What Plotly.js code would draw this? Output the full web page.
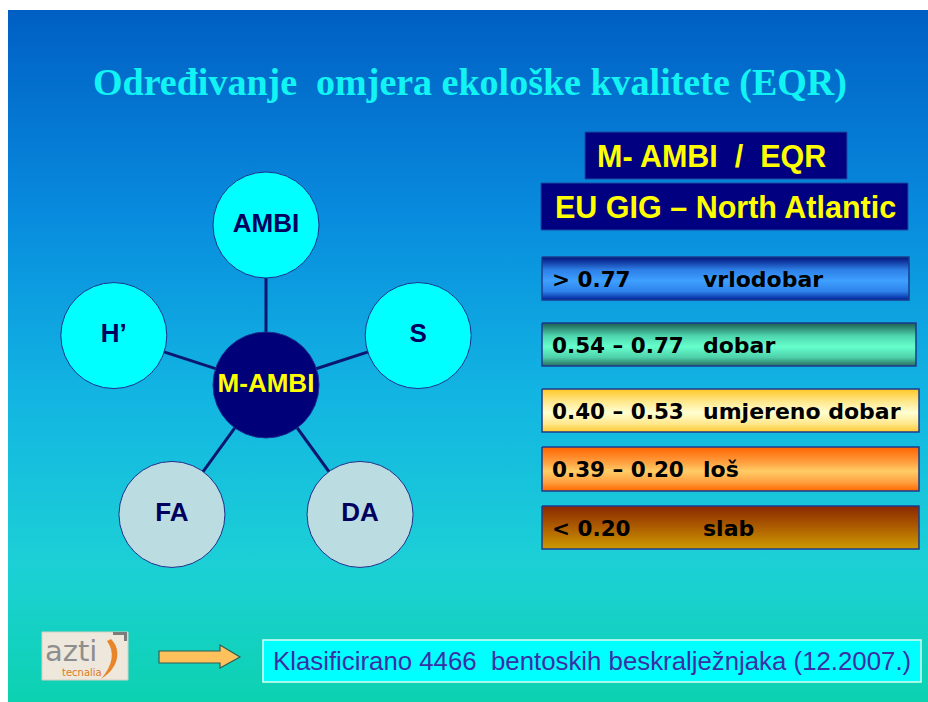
<!DOCTYPE html>
<html>
<head>
<meta charset="utf-8">
<script src="https://cdn.plot.ly/plotly-3.0.1.min.js"></script>
<style>html,body{margin:0;padding:0;background:#ffffff;}#chart{width:928px;height:702px;}</style>
</head>
<body>
<div id="chart"></div>
<script>
// ---- content ----
const titleText = "Određivanje\u00a0 omjera ekološke kvalitete (EQR)";
const headerLines = ["M- AMBI\u00a0 /\u00a0 EQR", "EU GIG – North Atlantic"];
const centerLabel = "M-AMBI";
const nodeLabels = ["AMBI", "S", "DA", "FA", "H’"];
const nodeKinds = ["main", "main", "extra", "extra", "main"];
const eqrRanges = ["> 0.77", "0.54 – 0.77", "0.40 – 0.53", "0.39 – 0.20", "< 0.20"];
const eqrClasses = ["vrlodobar", "dobar", "umjereno dobar", "loš", "slab"];
const footnoteText = "Klasificirano 4466\u00a0 bentoskih beskralježnjaka (12.2007.)";
const logoWord = "azti";
const logoSub = "tecnalia";

// ---- styles / layout geometry ----
const bandColors = [
  [[0,'#00127a'],[0.3,'#2d7fe6'],[0.55,'#3ea0ff'],[0.8,'#2e82ea'],[1,'#00229a']],
  [[0,'#1a5c52'],[0.3,'#4ed6ae'],[0.55,'#66ffcc'],[0.8,'#4ed0aa'],[1,'#256c5e']],
  [[0,'#ffc626'],[0.3,'#ffe88e'],[0.55,'#ffffd2'],[0.8,'#ffe88e'],[1,'#ffca30']],
  [[0,'#ff6200'],[0.35,'#ffa040'],[0.55,'#ffcc66'],[0.8,'#ffa040'],[1,'#ff6800']],
  [[0,'#8a2800'],[0.5,'#ae5e00'],[1,'#cc9a00']]
];
const bandBoxes = [[542,909,257,300],[542,916,323,366],[542,919,389,432],[542,919,447,491],[542,919,506,549]];
const kindFill = {main:'#00ffff', extra:'#bbdde1'};

const traces = [];
// slide background
traces.push({
  type:'scatter', mode:'lines', x:[8,928,928,8,8], y:[10,10,702,702,10],
  fill:'toself', fillcolor:'#10a8e0', line:{width:0}, hoverinfo:'skip', showlegend:false,
  fillgradient:{type:'vertical', start:10, stop:702,
    colorscale:[[0,'rgb(0,95,196)'],[0.3,'rgb(8,140,222)'],[0.55,'rgb(18,180,226)'],[0.8,'rgb(28,208,214)'],[1,'rgb(12,210,176)']]}
});

// diagram geometry
const cx = 266, cy = 385, R = 160, nodeSize = 106;
const angles = [90, 18, 306, 234, 162];
const nx = angles.map(a => cx + R*Math.cos(a*Math.PI/180));
const ny = angles.map(a => cy - R*Math.sin(a*Math.PI/180));

// spokes
const sx = [], sy = [];
nx.forEach((x,i) => { sx.push(cx, x, null); sy.push(cy, ny[i], null); });
traces.push({type:'scatter', mode:'lines', x:sx, y:sy, line:{color:'#0b1670', width:3}, hoverinfo:'skip', showlegend:false});

// nodes
traces.push({
  type:'scatter', mode:'markers+text', x:nx, y:ny, text:nodeLabels, textposition:'middle center',
  textfont:{family:'Liberation Sans, Arial, sans-serif', size:26, color:'#00005e', weight:'bold'},
  marker:{size:nodeSize, color:nodeKinds.map(k=>kindFill[k]), line:{color:'#1d2f8c', width:1}},
  hoverinfo:'skip', showlegend:false
});
traces.push({
  type:'scatter', mode:'markers+text', x:[cx], y:[cy], text:[centerLabel], textposition:'middle center',
  textfont:{family:'Liberation Sans, Arial, sans-serif', size:26, color:'#ffff00', weight:'bold'},
  marker:{size:nodeSize, color:'#000078', line:{color:'#1d2f8c', width:1}},
  hoverinfo:'skip', showlegend:false
});

// EQR bands
eqrClasses.forEach((c,i) => {
  const [x0,x1,y0,y1] = bandBoxes[i];
  traces.push({
    type:'scatter', mode:'lines', x:[x0,x1,x1,x0,x0], y:[y0,y0,y1,y1,y0],
    fill:'toself', fillcolor:bandColors[i][Math.floor(bandColors[i].length/2)][1],
    fillgradient:{type:'vertical', start:y0, stop:y1, colorscale:bandColors[i]},
    line:{color:'#1b3b8e', width:1.5}, hoverinfo:'skip', showlegend:false
  });
});

const annotations = [];
const sansBold = {family:'Liberation Sans, Arial, sans-serif', weight:'bold'};
annotations.push({x:470, y:82, xref:'x', yref:'y', text:titleText, showarrow:false, xanchor:'center', yanchor:'middle',
  font:{family:'Liberation Serif, Times New Roman, serif', size:38, color:'#12f4f4', weight:'bold'}});
annotations.push({x:711, y:156, xref:'x', yref:'y', text:headerLines[0], showarrow:false, xanchor:'center', yanchor:'middle',
  font:Object.assign({size:30.5, color:'#ffff00'}, sansBold)});
annotations.push({x:725, y:207, xref:'x', yref:'y', text:headerLines[1], showarrow:false, xanchor:'center', yanchor:'middle',
  font:Object.assign({size:30.5, color:'#ffff00'}, sansBold)});
eqrRanges.forEach((r,i) => {
  const [x0,x1,y0,y1] = bandBoxes[i];
  const ym = (y0+y1)/2 + 0.5;
  annotations.push({x:550, y:ym, xref:'x', yref:'y', text:r, showarrow:false, xanchor:'left', yanchor:'middle',
    font:{family:'DejaVu Sans, sans-serif', size:21.5, color:'#000000', weight:'bold'}});
  annotations.push({x:701, y:ym, xref:'x', yref:'y', text:eqrClasses[i], showarrow:false, xanchor:'left', yanchor:'middle',
    font:{family:'DejaVu Sans, sans-serif', size:22, color:'#000000', weight:'bold'}});
});
annotations.push({x:271, y:661, xref:'x', yref:'y', text:footnoteText, showarrow:false, xanchor:'left', yanchor:'middle',
  font:{family:'Liberation Sans, Arial, sans-serif', size:25.8, color:'#3a30a6'}});
annotations.push({x:71, y:651, xref:'x', yref:'y', text:logoWord, showarrow:false, xanchor:'center', yanchor:'middle',
  font:{family:'DejaVu Sans, sans-serif', size:29, color:'#8e8e8e'}});
annotations.push({x:82, y:672, xref:'x', yref:'y', text:logoSub, showarrow:false, xanchor:'center', yanchor:'middle',
  font:{family:'DejaVu Sans, sans-serif', size:10, color:'#e07a22'}});

const shapes = [
  // header boxes
  {type:'rect', xref:'x', yref:'y', x0:585, x1:847, y0:132, y1:179, fillcolor:'#000080', line:{color:'#1a4aa0', width:1}, layer:'above'},
  {type:'rect', xref:'x', yref:'y', x0:541, x1:908, y0:183, y1:230, fillcolor:'#000080', line:{color:'#1a4aa0', width:1}, layer:'above'},
  // footnote box
  {type:'rect', xref:'x', yref:'y', x0:263, x1:921, y0:640, y1:682, fillcolor:'#00ffff', line:{color:'#d8fff4', width:1.5}, layer:'above'},
  // arrow
  {type:'path', xref:'x', yref:'y', path:'M159,651 L220,651 L220,645 L240,657 L220,668 L220,663 L159,663 Z',
   fillcolor:'#ffc15c', line:{color:'#2f5f55', width:1.2}, layer:'above'},
  // logo
  {type:'rect', xref:'x', yref:'y', x0:42, x1:128, y0:632, y1:680, fillcolor:'#eee8dc', line:{color:'#d6cfbf', width:1}, layer:'above'},
  {type:'path', xref:'x', yref:'y', path:'M111,639 C122,650 119,668 101,679 C113,665 115,652 107,641 Z',
   fillcolor:'#e8842a', line:{width:0}, layer:'above'},
  {type:'path', xref:'x', yref:'y', path:'M113,632 L127,632 L127,641 L124,641 L124,635 L113,635 Z',
   fillcolor:'#7c7c7c', line:{width:0}, layer:'above'}
];

const layout = {
  width:928, height:702, margin:{l:0,r:0,t:0,b:0,pad:0},
  paper_bgcolor:'#ffffff', plot_bgcolor:'#ffffff',
  xaxis:{range:[0,928], visible:false, fixedrange:true},
  yaxis:{range:[702,0], visible:false, fixedrange:true},
  showlegend:false, annotations:annotations, shapes:shapes, hovermode:false
};
Plotly.newPlot('chart', traces, layout, {staticPlot:true, displayModeBar:false});
</script>
</body>
</html>
